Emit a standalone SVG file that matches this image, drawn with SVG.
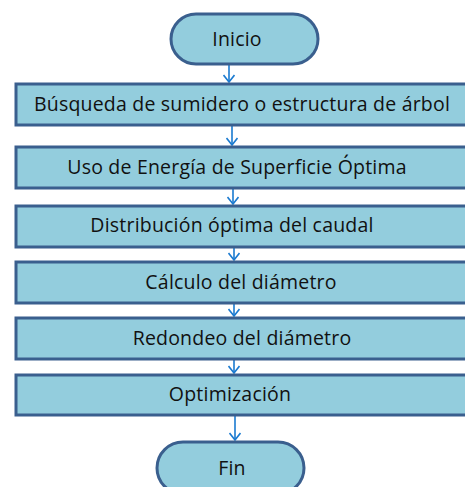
<svg xmlns="http://www.w3.org/2000/svg" width="465" height="487" viewBox="0 0 465 487">
<defs>
<style>
.n{fill:#93CDDD;stroke:#3A5F8E;stroke-width:3}
.t{font-family:"Open Sans","Noto Sans","Liberation Sans",sans-serif;font-size:19.5px;letter-spacing:0.2px;fill:#111;text-anchor:middle}
.c{stroke:#1a7ad0;stroke-width:1.6;fill:none}
</style>
<marker id="ah" viewBox="0 0 12 12" refX="11" refY="6" markerWidth="12" markerHeight="12" markerUnits="userSpaceOnUse" orient="auto">
<path d="M4 0.5 L11 6 L4 11.5" fill="none" stroke="#1a7ad0" stroke-width="1.6"/>
</marker>
</defs>
<rect width="465" height="487" fill="#fff"/>
<g id="connectors">
<line class="c" x1="229" y1="65" x2="229" y2="82" marker-end="url(#ah)"/>
<line class="c" x1="232" y1="126" x2="232" y2="145" marker-end="url(#ah)"/>
<line class="c" x1="233" y1="189" x2="233" y2="204" marker-end="url(#ah)"/>
<line class="c" x1="234" y1="248" x2="234" y2="260" marker-end="url(#ah)"/>
<line class="c" x1="234" y1="304" x2="234" y2="316" marker-end="url(#ah)"/>
<line class="c" x1="234" y1="360" x2="234" y2="373" marker-end="url(#ah)"/>
<line class="c" x1="235" y1="416" x2="235" y2="440" marker-end="url(#ah)"/>
</g>
<g id="inicio">
<rect class="n" x="171" y="14" width="147" height="50" rx="25"/>
<text class="t" x="237" y="46">Inicio</text>
</g>
<g id="busqueda">
<rect class="n" x="16" y="84" width="460" height="41"/>
<text class="t" x="242" y="111">Búsqueda de sumidero o estructura de árbol</text>
</g>
<g id="energia">
<rect class="n" x="16" y="147" width="460" height="41"/>
<text class="t" x="237" y="174">Uso de Energía de Superficie Óptima</text>
</g>
<g id="distribucion">
<rect class="n" x="16" y="206" width="460" height="41"/>
<text class="t" x="232" y="232">Distribución óptima del caudal</text>
</g>
<g id="calculo">
<rect class="n" x="16" y="262" width="460" height="41"/>
<text class="t" x="241" y="289">Cálculo del diámetro</text>
</g>
<g id="redondeo">
<rect class="n" x="16" y="318" width="460" height="41"/>
<text class="t" x="242" y="345">Redondeo del diámetro</text>
</g>
<g id="optimizacion">
<rect class="n" x="16" y="375" width="460" height="40"/>
<text class="t" x="230" y="401">Optimización</text>
</g>
<g id="fin">
<rect class="n" x="157" y="442" width="147" height="52" rx="26"/>
<text class="t" x="232" y="475">Fin</text>
</g>
</svg>
